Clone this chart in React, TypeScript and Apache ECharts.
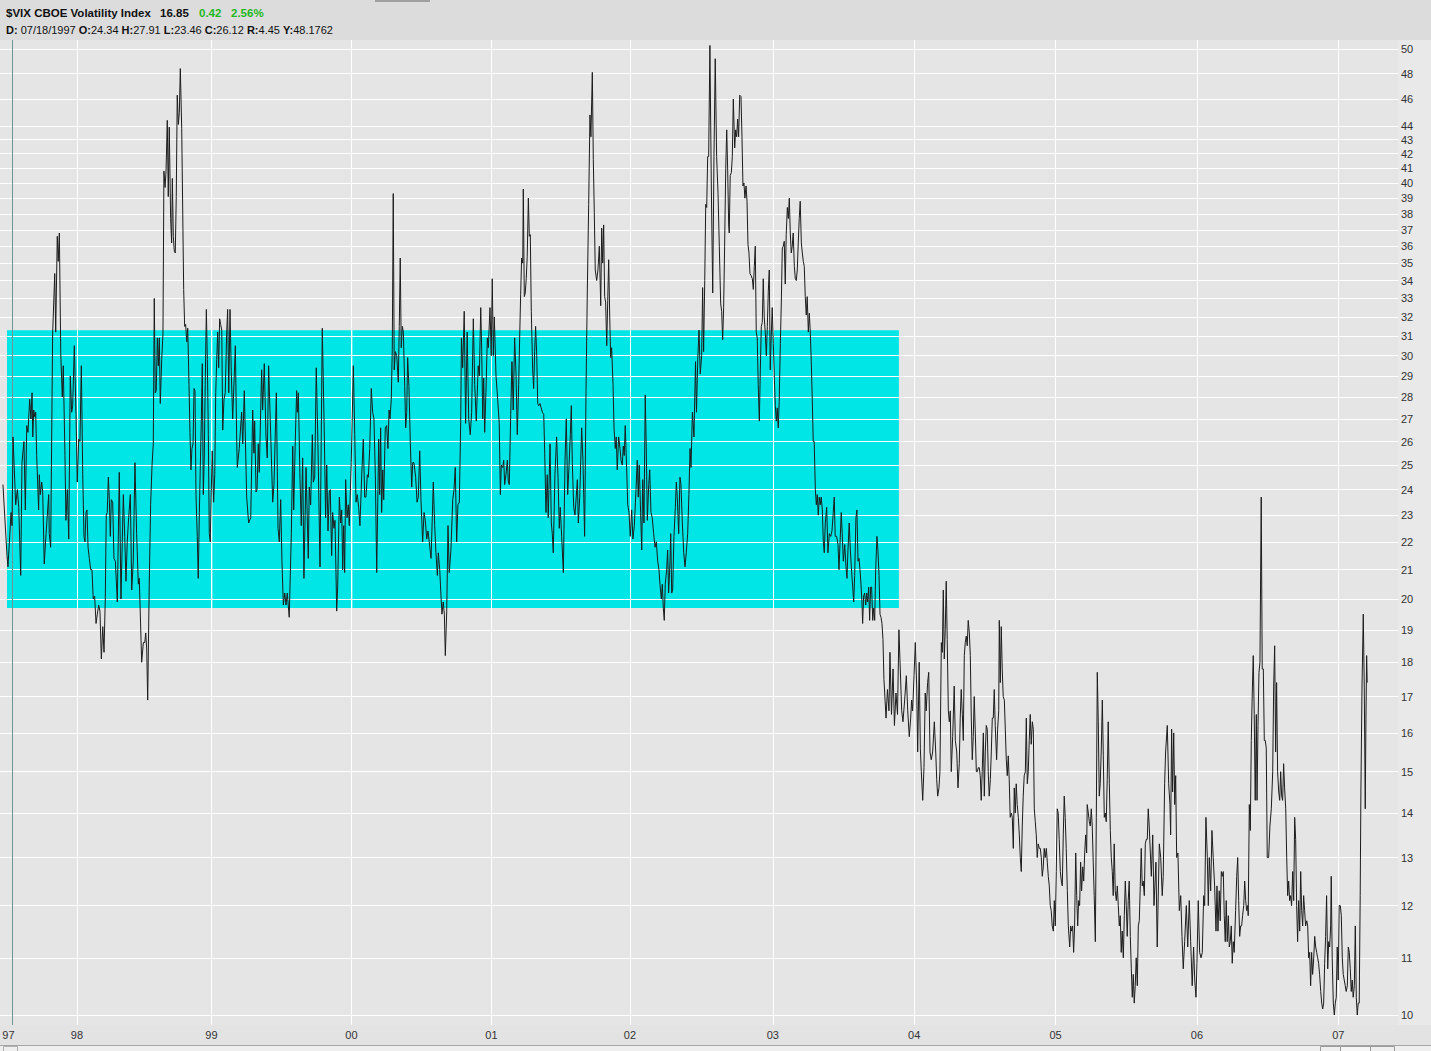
import React, { useEffect, useRef } from 'react';
import * as echarts from 'echarts';

// Trading-time positions (years) and closing values of $VIX
const s1997: [number, number][] = [[1997.471,24.2],[1997.500,21.5],[1997.507,21.1],[1997.529,23.1],[1997.536,22.6],[1997.543,26.2],[1997.562,23.4],[1997.574,24.0],[1997.584,23.3],[1997.598,20.8],[1997.607,25.1],[1997.621,26.0],[1997.631,23.2],[1997.641,26.7],[1997.650,26.4],[1997.662,27.9],[1997.671,27.0],[1997.679,28.2],[1997.684,26.2],[1997.691,27.4],[1997.698,27.1],[1997.705,27.3],[1997.712,25.4],[1997.726,23.2],[1997.731,24.6],[1997.738,23.8],[1997.748,24.3],[1997.755,23.9],[1997.766,21.2],[1997.779,22.3],[1997.798,23.8],[1997.802,22.3],[1997.812,21.8],[1997.826,31.1],[1997.841,34.4],[1997.848,31.2],[1997.859,36.6],[1997.866,35.1],[1997.874,36.8],[1997.884,30.1],[1997.895,28.0],[1997.902,29.5],[1997.914,25.4],[1997.921,22.8],[1997.931,24.0],[1997.941,22.1],[1997.952,29.0],[1997.962,27.3],[1997.969,27.6],[1997.981,30.5],[1997.993,27.2]];

const s1998: [number, number][] = [[1998.002,24.3],[1998.012,26.1],[1998.021,26.0],[1998.031,29.5],[1998.041,24.6],[1998.050,22.2],[1998.057,22.0],[1998.064,23.1],[1998.071,23.2],[1998.079,21.8],[1998.088,21.4],[1998.098,21.0],[1998.107,21.0],[1998.116,20.0],[1998.126,20.1],[1998.136,19.2],[1998.145,19.5],[1998.155,19.8],[1998.164,19.6],[1998.174,18.1],[1998.184,19.1],[1998.193,18.3],[1998.202,20.0],[1998.209,23.0],[1998.216,23.1],[1998.224,24.5],[1998.231,23.6],[1998.238,22.2],[1998.245,23.6],[1998.255,23.5],[1998.264,21.4],[1998.274,21.3],[1998.288,19.9],[1998.302,24.7],[1998.314,20.0],[1998.331,23.8],[1998.341,22.2],[1998.350,20.6],[1998.359,22.0],[1998.369,22.9],[1998.381,23.8],[1998.391,20.3],[1998.402,21.3],[1998.414,25.1],[1998.426,22.3],[1998.438,20.5],[1998.445,20.7],[1998.462,18.0],[1998.474,18.6],[1998.484,18.6],[1998.491,18.9],[1998.498,18.4],[1998.505,16.9],[1998.516,20.5],[1998.526,23.4],[1998.536,25.0],[1998.545,25.9],[1998.552,33.0],[1998.559,28.2],[1998.566,28.3],[1998.574,30.9],[1998.581,29.5],[1998.588,30.9],[1998.595,27.7],[1998.605,29.8],[1998.614,31.1],[1998.621,40.8],[1998.629,39.7],[1998.636,40.8],[1998.645,44.4],[1998.652,39.1],[1998.659,43.9],[1998.669,37.7],[1998.676,36.2],[1998.681,40.3],[1998.688,36.6],[1998.695,35.7],[1998.702,35.6],[1998.709,39.1],[1998.716,46.3],[1998.724,44.1],[1998.731,45.0],[1998.738,48.4],[1998.748,43.8],[1998.755,38.3],[1998.762,33.5],[1998.769,31.5],[1998.776,31.6],[1998.784,30.7],[1998.791,31.4],[1998.800,28.6],[1998.807,26.4],[1998.814,24.8],[1998.821,25.7],[1998.829,25.9],[1998.836,28.4],[1998.843,28.3],[1998.850,23.8],[1998.859,22.2],[1998.866,20.7],[1998.874,23.1],[1998.881,25.0],[1998.888,26.9],[1998.895,29.6],[1998.902,23.8],[1998.909,25.3],[1998.916,28.6],[1998.924,32.4],[1998.931,29.8],[1998.938,26.3],[1998.945,22.3],[1998.952,22.0],[1998.959,23.9],[1998.966,25.6],[1998.976,23.5],[1998.984,24.6],[1998.991,28.2],[1998.998,29.8]];

const s1999: [number, number][] = [[1999.005,31.2],[1999.012,29.4],[1999.019,31.9],[1999.026,31.6],[1999.034,31.3],[1999.041,26.5],[1999.050,27.9],[1999.059,28.2],[1999.069,31.1],[1999.076,32.4],[1999.084,28.2],[1999.093,32.4],[1999.102,29.2],[1999.112,27.0],[1999.131,30.5],[1999.141,26.0],[1999.145,24.9],[1999.159,25.7],[1999.176,27.3],[1999.184,25.9],[1999.195,28.3],[1999.212,23.7],[1999.226,22.7],[1999.241,22.9],[1999.255,27.4],[1999.264,25.5],[1999.269,26.9],[1999.279,23.9],[1999.286,24.0],[1999.295,25.9],[1999.302,24.7],[1999.319,29.3],[1999.326,27.4],[1999.338,29.6],[1999.350,26.2],[1999.359,25.3],[1999.369,29.5],[1999.384,26.2],[1999.398,23.5],[1999.407,24.2],[1999.424,28.2],[1999.436,22.5],[1999.445,22.0],[1999.455,23.6],[1999.464,21.3],[1999.474,19.8],[1999.484,20.2],[1999.493,19.8],[1999.502,20.2],[1999.516,19.4],[1999.531,22.3],[1999.541,25.8],[1999.548,23.2],[1999.559,26.0],[1999.569,28.3],[1999.574,27.3],[1999.581,28.2],[1999.593,24.4],[1999.602,22.6],[1999.612,25.3],[1999.621,20.7],[1999.636,24.9],[1999.652,21.4],[1999.659,24.1],[1999.669,23.4],[1999.681,26.3],[1999.688,24.3],[1999.698,24.5],[1999.709,29.4],[1999.721,25.9],[1999.736,21.1],[1999.752,31.4],[1999.766,26.5],[1999.776,22.9],[1999.784,25.0],[1999.793,22.4],[1999.802,23.9],[1999.809,24.0],[1999.819,21.5],[1999.826,23.1],[1999.836,22.5],[1999.843,22.8],[1999.855,19.6],[1999.862,20.4],[1999.874,23.7],[1999.884,22.7],[1999.891,23.2],[1999.898,21.0],[1999.905,22.6],[1999.912,20.9],[1999.919,24.4],[1999.929,22.9],[1999.938,23.4],[1999.945,22.6],[1999.959,25.1],[1999.974,29.5],[1999.984,26.3],[1999.993,23.5]];

const s2000: [number, number][] = [[2000.002,23.8],[2000.012,23.3],[2000.021,22.6],[2000.034,24.6],[2000.045,26.1],[2000.055,23.7],[2000.064,23.7],[2000.074,24.6],[2000.081,24.5],[2000.091,25.7],[2000.102,28.4],[2000.112,27.3],[2000.121,27.0],[2000.131,24.6],[2000.141,20.9],[2000.155,26.1],[2000.162,23.8],[2000.169,26.6],[2000.176,23.1],[2000.184,24.8],[2000.191,23.6],[2000.202,26.6],[2000.212,26.7],[2000.221,25.7],[2000.229,27.4],[2000.236,27.0],[2000.245,27.9],[2000.252,30.3],[2000.259,39.3],[2000.266,29.3],[2000.274,30.2],[2000.284,30.0],[2000.295,28.7],[2000.302,31.5],[2000.309,35.3],[2000.316,30.4],[2000.324,31.5],[2000.331,31.2],[2000.341,28.5],[2000.348,26.6],[2000.355,27.3],[2000.362,29.9],[2000.371,28.5],[2000.381,25.9],[2000.391,24.1],[2000.398,25.1],[2000.407,25.1],[2000.419,24.5],[2000.429,23.5],[2000.438,23.7],[2000.448,25.6],[2000.457,23.6],[2000.469,22.0],[2000.479,23.1],[2000.488,22.8],[2000.498,22.1],[2000.507,22.4],[2000.516,22.0],[2000.529,21.4],[2000.538,22.9],[2000.545,24.3],[2000.555,22.6],[2000.564,21.6],[2000.574,20.8],[2000.581,21.6],[2000.591,21.0],[2000.598,20.3],[2000.607,19.5],[2000.616,19.9],[2000.624,19.5],[2000.631,18.2],[2000.641,19.6],[2000.650,22.6],[2000.659,20.9],[2000.671,21.7],[2000.684,23.6],[2000.693,24.0],[2000.702,24.9],[2000.712,22.0],[2000.721,23.4],[2000.731,23.5],[2000.741,26.9],[2000.746,30.9],[2000.755,29.4],[2000.766,32.3],[2000.776,26.8],[2000.787,31.2],[2000.798,27.0],[2000.809,26.3],[2000.819,27.3],[2000.831,31.9],[2000.841,28.6],[2000.852,26.9],[2000.866,29.5],[2000.874,29.0],[2000.884,32.5],[2000.891,30.2],[2000.898,27.0],[2000.905,28.9],[2000.912,26.4],[2000.921,28.2],[2000.931,30.9],[2000.938,30.4],[2000.950,32.5],[2000.959,30.0],[2000.966,34.1],[2000.974,30.0],[2000.981,32.0],[2000.993,29.0]];

const s2001: [number, number][] = [[2001.005,27.9],[2001.016,26.8],[2001.024,23.8],[2001.031,25.0],[2001.041,24.9],[2001.048,25.2],[2001.055,24.2],[2001.064,24.6],[2001.074,25.2],[2001.081,24.3],[2001.088,24.2],[2001.098,27.2],[2001.107,29.7],[2001.116,27.4],[2001.126,30.9],[2001.136,29.1],[2001.145,26.3],[2001.155,28.6],[2001.162,30.9],[2001.169,33.2],[2001.176,35.3],[2001.184,35.0],[2001.188,39.6],[2001.195,33.1],[2001.202,33.3],[2001.209,34.1],[2001.216,35.4],[2001.224,39.0],[2001.231,36.6],[2001.238,36.7],[2001.245,32.3],[2001.255,29.3],[2001.262,28.4],[2001.269,30.2],[2001.276,31.5],[2001.284,30.0],[2001.291,27.7],[2001.298,27.6],[2001.307,27.7],[2001.316,27.5],[2001.324,27.3],[2001.334,27.2],[2001.341,25.5],[2001.350,23.1],[2001.359,24.6],[2001.366,22.9],[2001.379,25.9],[2001.388,22.7],[2001.395,22.3],[2001.402,21.6],[2001.414,24.6],[2001.426,26.2],[2001.436,24.5],[2001.445,22.5],[2001.452,23.3],[2001.462,22.2],[2001.474,20.9],[2001.486,25.2],[2001.495,27.0],[2001.505,23.8],[2001.514,24.9],[2001.524,26.3],[2001.531,27.6],[2001.538,25.1],[2001.548,23.3],[2001.557,23.0],[2001.566,23.7],[2001.574,24.4],[2001.581,22.7],[2001.591,23.7],[2001.605,26.6],[2001.614,25.2],[2001.626,22.2],[2001.636,28.3],[2001.645,33.3],[2001.655,38.6],[2001.664,44.8],[2001.671,43.2],[2001.681,48.1],[2001.688,41.6],[2001.695,38.1],[2001.702,34.6],[2001.712,34.0],[2001.721,34.6],[2001.731,36.0],[2001.741,32.6],[2001.748,37.1],[2001.755,35.0],[2001.762,37.3],[2001.769,33.1],[2001.776,32.8],[2001.784,30.5],[2001.791,32.9],[2001.798,35.2],[2001.805,32.1],[2001.812,29.9],[2001.819,30.4],[2001.829,28.6],[2001.836,26.6],[2001.845,25.7],[2001.852,26.2],[2001.859,24.8],[2001.869,26.2],[2001.879,25.7],[2001.886,25.2],[2001.895,25.0],[2001.902,25.8],[2001.909,25.4],[2001.916,26.7],[2001.926,24.9],[2001.934,23.4],[2001.943,23.1],[2001.952,22.2],[2001.962,23.2],[2001.971,22.1],[2001.981,22.6],[2001.993,24.0]];

const s2002: [number, number][] = [[2002.002,25.2],[2002.009,23.7],[2002.016,25.0],[2002.026,23.1],[2002.034,21.7],[2002.041,24.4],[2002.050,22.7],[2002.059,28.1],[2002.066,25.8],[2002.074,22.8],[2002.084,24.2],[2002.091,24.8],[2002.100,23.1],[2002.109,22.9],[2002.119,22.3],[2002.129,21.8],[2002.138,22.0],[2002.148,21.3],[2002.157,21.0],[2002.164,20.5],[2002.174,20.0],[2002.181,20.5],[2002.188,19.7],[2002.195,19.3],[2002.202,20.5],[2002.212,21.0],[2002.219,21.7],[2002.226,20.2],[2002.236,21.3],[2002.241,22.3],[2002.248,20.2],[2002.255,20.3],[2002.264,22.2],[2002.274,23.3],[2002.281,24.3],[2002.288,23.7],[2002.298,22.3],[2002.307,24.5],[2002.314,24.2],[2002.324,22.7],[2002.334,21.6],[2002.343,21.1],[2002.352,21.6],[2002.362,22.3],[2002.371,23.8],[2002.379,25.7],[2002.386,24.9],[2002.396,27.3],[2002.407,26.2],[2002.418,29.7],[2002.425,27.3],[2002.434,29.8],[2002.443,31.3],[2002.452,29.1],[2002.462,30.0],[2002.469,33.6],[2002.476,30.2],[2002.484,34.0],[2002.491,38.6],[2002.498,38.4],[2002.505,41.8],[2002.512,41.8],[2002.521,50.3],[2002.531,39.8],[2002.541,33.3],[2002.550,41.8],[2002.559,49.2],[2002.569,41.8],[2002.579,39.3],[2002.588,36.0],[2002.598,32.7],[2002.605,32.3],[2002.612,30.8],[2002.619,32.5],[2002.626,36.0],[2002.634,41.0],[2002.641,43.7],[2002.648,40.8],[2002.655,37.3],[2002.659,36.8],[2002.666,40.5],[2002.674,40.7],[2002.681,41.8],[2002.688,46.0],[2002.698,42.4],[2002.705,43.7],[2002.712,43.2],[2002.719,44.5],[2002.726,43.2],[2002.734,46.3],[2002.743,46.2],[2002.750,43.2],[2002.757,39.8],[2002.764,40.0],[2002.771,39.0],[2002.779,39.8],[2002.786,38.8],[2002.793,36.1],[2002.800,35.6],[2002.807,34.4],[2002.814,34.3],[2002.824,34.1],[2002.831,33.5],[2002.838,34.8],[2002.845,36.0],[2002.852,31.2],[2002.859,30.9],[2002.866,28.6],[2002.874,26.9],[2002.881,29.3],[2002.888,31.5],[2002.895,31.7],[2002.902,34.1],[2002.909,32.0],[2002.916,31.2],[2002.924,30.0],[2002.931,31.5],[2002.938,33.4],[2002.945,34.6],[2002.952,29.3],[2002.959,31.0],[2002.966,32.5],[2002.974,30.6],[2002.981,28.9],[2002.988,27.6],[2002.995,26.9]];

const s2003: [number, number][] = [[2003.002,27.5],[2003.009,26.6],[2003.016,27.8],[2003.024,30.6],[2003.031,32.8],[2003.038,35.9],[2003.045,36.0],[2003.052,36.3],[2003.059,33.8],[2003.066,36.7],[2003.074,38.4],[2003.081,37.7],[2003.088,39.0],[2003.095,36.8],[2003.102,35.6],[2003.109,36.0],[2003.116,36.8],[2003.124,34.8],[2003.131,34.1],[2003.138,34.0],[2003.145,34.6],[2003.152,36.2],[2003.159,37.7],[2003.166,38.8],[2003.174,36.2],[2003.181,35.6],[2003.188,35.1],[2003.195,34.8],[2003.202,33.1],[2003.209,32.1],[2003.216,33.1],[2003.224,31.2],[2003.231,32.2],[2003.238,31.2],[2003.245,29.7],[2003.252,27.9],[2003.259,26.0],[2003.266,26.0],[2003.274,24.0],[2003.281,23.4],[2003.288,23.8],[2003.295,23.0],[2003.302,23.7],[2003.309,23.4],[2003.316,23.7],[2003.324,23.2],[2003.331,22.0],[2003.338,21.6],[2003.345,22.7],[2003.355,23.3],[2003.364,21.6],[2003.374,22.3],[2003.384,22.2],[2003.393,22.4],[2003.402,23.1],[2003.409,23.7],[2003.416,22.2],[2003.426,22.2],[2003.436,21.9],[2003.443,21.0],[2003.450,21.9],[2003.459,23.1],[2003.466,22.3],[2003.474,21.3],[2003.484,21.9],[2003.493,21.1],[2003.500,20.7],[2003.507,21.7],[2003.516,22.7],[2003.524,21.7],[2003.531,21.1],[2003.541,20.4],[2003.548,19.9],[2003.555,20.8],[2003.564,22.9],[2003.571,23.2],[2003.579,21.3],[2003.586,21.4],[2003.593,21.0],[2003.600,20.5],[2003.607,19.9],[2003.612,19.2],[2003.619,20.1],[2003.626,20.2],[2003.634,19.8],[2003.641,20.2],[2003.648,19.9],[2003.655,20.4],[2003.662,19.3],[2003.669,20.4],[2003.676,20.4],[2003.684,19.3],[2003.691,19.7],[2003.698,19.3],[2003.705,21.0],[2003.714,22.2],[2003.721,21.7],[2003.729,20.8],[2003.736,19.5],[2003.743,19.4],[2003.750,19.2],[2003.757,18.7],[2003.764,17.5],[2003.779,16.4],[2003.789,17.2],[2003.800,16.6],[2003.807,18.3],[2003.818,16.5],[2003.829,17.8],[2003.839,16.2],[2003.850,17.1],[2003.861,16.5],[2003.871,19.0],[2003.891,16.6],[2003.900,16.3],[2003.912,16.9],[2003.924,17.6],[2003.934,16.6],[2003.945,15.9],[2003.955,16.4],[2003.962,16.9],[2003.969,16.6],[2003.979,17.6],[2003.988,18.6],[2003.998,17.3]];

const s2004: [number, number][] = [[2004.005,15.5],[2004.016,18.0],[2004.024,15.6],[2004.031,15.0],[2004.041,14.3],[2004.050,15.1],[2004.059,17.1],[2004.066,16.6],[2004.076,17.4],[2004.084,17.7],[2004.093,15.5],[2004.102,15.3],[2004.112,15.5],[2004.124,16.3],[2004.134,15.5],[2004.141,14.8],[2004.148,14.4],[2004.157,14.6],[2004.164,15.0],[2004.174,18.6],[2004.181,18.3],[2004.188,20.3],[2004.195,18.1],[2004.202,19.0],[2004.209,20.6],[2004.216,18.7],[2004.224,16.6],[2004.231,16.3],[2004.238,16.6],[2004.245,15.0],[2004.255,15.9],[2004.266,17.3],[2004.274,15.8],[2004.284,15.5],[2004.293,14.6],[2004.302,15.2],[2004.309,16.4],[2004.316,17.2],[2004.324,16.5],[2004.331,15.8],[2004.338,18.2],[2004.345,18.6],[2004.352,18.8],[2004.359,18.5],[2004.366,19.3],[2004.374,18.9],[2004.381,18.2],[2004.388,16.4],[2004.395,15.3],[2004.402,15.9],[2004.409,17.0],[2004.416,16.1],[2004.424,15.0],[2004.431,15.0],[2004.438,15.1],[2004.445,15.1],[2004.452,14.9],[2004.459,14.3],[2004.466,15.0],[2004.474,16.0],[2004.481,14.4],[2004.488,15.5],[2004.495,16.2],[2004.502,16.1],[2004.509,15.0],[2004.516,14.4],[2004.524,14.8],[2004.531,15.5],[2004.538,16.4],[2004.545,16.4],[2004.552,17.2],[2004.559,16.2],[2004.569,15.3],[2004.576,16.1],[2004.584,16.6],[2004.588,19.3],[2004.595,17.4],[2004.602,19.1],[2004.609,17.8],[2004.616,17.0],[2004.624,16.9],[2004.631,16.1],[2004.638,15.3],[2004.645,14.9],[2004.652,15.4],[2004.659,14.8],[2004.666,13.9],[2004.674,14.0],[2004.681,13.9],[2004.688,13.2],[2004.695,14.6],[2004.702,14.0],[2004.709,14.7],[2004.716,14.2],[2004.724,13.9],[2004.731,13.5],[2004.738,13.0],[2004.745,12.7],[2004.752,13.7],[2004.759,14.4],[2004.766,14.9],[2004.774,15.0],[2004.781,16.4],[2004.788,14.7],[2004.795,15.0],[2004.802,15.8],[2004.809,16.5],[2004.816,15.7],[2004.824,16.3],[2004.831,16.1],[2004.838,14.1],[2004.845,13.8],[2004.852,13.5],[2004.859,13.0],[2004.866,13.3],[2004.874,13.2],[2004.881,13.2],[2004.888,13.0],[2004.895,12.6],[2004.902,12.8],[2004.909,13.2],[2004.916,13.0],[2004.924,13.2],[2004.931,12.9],[2004.938,12.6],[2004.945,12.4],[2004.952,12.0],[2004.959,11.9],[2004.966,11.6],[2004.974,11.5],[2004.981,12.1],[2004.988,11.6],[2004.995,12.7]];

const s2005: [number, number][] = [[2005.002,14.1],[2005.009,14.0],[2005.016,13.4],[2005.024,12.7],[2005.031,12.5],[2005.038,12.4],[2005.045,13.5],[2005.052,14.4],[2005.059,13.9],[2005.066,13.2],[2005.074,12.3],[2005.081,11.6],[2005.091,11.2],[2005.098,11.6],[2005.105,11.5],[2005.112,11.6],[2005.119,11.1],[2005.126,11.6],[2005.134,13.1],[2005.141,12.2],[2005.148,11.6],[2005.155,12.1],[2005.162,12.0],[2005.169,12.9],[2005.176,12.3],[2005.184,12.8],[2005.191,12.5],[2005.198,13.1],[2005.205,13.5],[2005.212,13.1],[2005.216,14.2],[2005.224,14.0],[2005.231,13.8],[2005.238,13.7],[2005.245,14.1],[2005.252,13.7],[2005.259,12.9],[2005.266,12.2],[2005.274,11.3],[2005.281,13.9],[2005.288,17.7],[2005.295,16.3],[2005.302,14.4],[2005.309,14.7],[2005.316,15.5],[2005.324,16.9],[2005.331,15.4],[2005.338,13.9],[2005.345,14.0],[2005.352,13.8],[2005.359,14.8],[2005.366,16.3],[2005.374,14.7],[2005.381,13.6],[2005.388,13.0],[2005.395,12.7],[2005.402,12.2],[2005.409,13.3],[2005.416,12.3],[2005.424,12.1],[2005.431,12.4],[2005.438,12.0],[2005.445,11.6],[2005.452,11.8],[2005.459,11.1],[2005.466,11.5],[2005.474,11.0],[2005.481,11.8],[2005.488,12.5],[2005.495,12.0],[2005.502,11.4],[2005.509,12.1],[2005.516,12.5],[2005.524,11.4],[2005.531,10.8],[2005.538,10.3],[2005.545,10.7],[2005.552,10.2],[2005.559,10.5],[2005.566,11.0],[2005.574,10.5],[2005.581,11.6],[2005.588,11.7],[2005.595,12.4],[2005.602,13.2],[2005.609,12.4],[2005.616,12.5],[2005.624,12.2],[2005.631,13.3],[2005.638,13.4],[2005.645,13.4],[2005.652,14.1],[2005.659,13.7],[2005.674,12.6],[2005.684,13.5],[2005.693,12.0],[2005.707,12.9],[2005.716,11.2],[2005.731,13.3],[2005.741,13.0],[2005.752,12.2],[2005.759,12.6],[2005.769,14.7],[2005.776,15.5],[2005.788,16.2],[2005.798,14.7],[2005.807,14.2],[2005.812,13.5],[2005.819,16.1],[2005.826,14.5],[2005.834,16.0],[2005.841,14.2],[2005.848,14.9],[2005.855,13.0],[2005.864,13.1],[2005.874,11.9],[2005.884,12.2],[2005.893,11.4],[2005.902,10.8],[2005.912,11.3],[2005.924,12.0],[2005.934,11.2],[2005.945,12.1],[2005.955,11.3],[2005.966,10.5],[2005.976,11.2],[2005.984,10.6],[2005.993,10.3]];

const s2006: [number, number][] = [[2006.000,10.9],[2006.009,12.1],[2006.019,11.1],[2006.029,11.0],[2006.038,11.1],[2006.048,12.2],[2006.055,12.0],[2006.064,13.9],[2006.074,13.0],[2006.081,12.0],[2006.088,13.0],[2006.098,12.3],[2006.107,13.6],[2006.116,13.0],[2006.126,12.4],[2006.136,11.5],[2006.143,12.4],[2006.150,11.5],[2006.159,12.3],[2006.166,11.7],[2006.174,12.7],[2006.181,12.6],[2006.188,12.7],[2006.195,11.8],[2006.202,11.3],[2006.209,12.1],[2006.216,11.3],[2006.224,11.8],[2006.231,11.2],[2006.238,11.3],[2006.245,11.6],[2006.252,10.9],[2006.259,11.3],[2006.266,11.1],[2006.276,11.9],[2006.284,12.6],[2006.291,13.0],[2006.298,12.1],[2006.305,11.4],[2006.312,11.6],[2006.319,11.6],[2006.326,11.8],[2006.334,12.0],[2006.341,12.5],[2006.348,12.1],[2006.355,11.9],[2006.362,12.0],[2006.366,11.8],[2006.374,14.2],[2006.381,13.6],[2006.388,15.8],[2006.395,17.1],[2006.402,18.2],[2006.409,16.5],[2006.416,14.3],[2006.424,16.5],[2006.429,14.3],[2006.436,16.2],[2006.443,17.7],[2006.450,18.0],[2006.459,23.7],[2006.466,17.8],[2006.474,17.8],[2006.481,15.8],[2006.488,15.8],[2006.495,15.6],[2006.502,13.0],[2006.512,13.0],[2006.521,13.7],[2006.531,14.1],[2006.541,15.0],[2006.548,17.3],[2006.555,18.5],[2006.562,15.5],[2006.569,17.4],[2006.576,15.0],[2006.584,14.5],[2006.591,14.3],[2006.598,15.0],[2006.605,14.4],[2006.612,14.3],[2006.619,15.2],[2006.626,14.6],[2006.634,14.1],[2006.641,13.0],[2006.648,12.2],[2006.655,12.5],[2006.662,12.1],[2006.669,12.2],[2006.676,12.0],[2006.684,12.7],[2006.691,12.1],[2006.698,13.9],[2006.705,13.4],[2006.712,12.0],[2006.719,11.3],[2006.726,12.1],[2006.734,11.5],[2006.741,12.7],[2006.748,11.9],[2006.755,11.6],[2006.762,12.2],[2006.769,11.9],[2006.776,11.6],[2006.784,11.7],[2006.791,11.6],[2006.798,11.0],[2006.805,11.1],[2006.812,10.5],[2006.819,11.1],[2006.826,10.7],[2006.834,11.0],[2006.841,11.4],[2006.848,11.2],[2006.855,11.1],[2006.862,11.0],[2006.869,10.9],[2006.876,10.7],[2006.884,10.4],[2006.891,10.2],[2006.898,10.1],[2006.905,10.2],[2006.912,10.9],[2006.919,11.4],[2006.926,12.2],[2006.934,10.8],[2006.941,11.3],[2006.948,11.2],[2006.955,11.6],[2006.959,12.6],[2006.966,11.0],[2006.974,10.2],[2006.981,10.0],[2006.988,10.2],[2006.995,10.3]];

const s2007: [number, number][] = [[2007.002,11.2],[2007.009,10.6],[2007.016,12.0],[2007.024,12.0],[2007.031,11.8],[2007.038,11.0],[2007.045,10.7],[2007.052,10.6],[2007.059,10.5],[2007.066,10.4],[2007.074,10.5],[2007.081,11.2],[2007.088,11.1],[2007.095,10.8],[2007.102,10.4],[2007.109,10.6],[2007.116,10.3],[2007.124,10.5],[2007.131,11.6],[2007.138,10.3],[2007.145,10.0],[2007.152,10.2],[2007.159,10.2],[2007.166,12.2],[2007.171,14.5],[2007.179,17.3],[2007.188,19.5],[2007.195,17.3],[2007.202,14.1],[2007.207,16.4],[2007.212,18.2],[2007.216,17.4]];

// Axis ticks
const yTicks = [10, 11, 12, 13, 14, 15, 16, 17, 18, 19, 20, 21, 22, 23, 24, 25, 26, 27, 28, 29, 30, 31, 32, 33, 34, 35, 36, 37, 38, 39, 40, 41, 42, 43, 44, 46, 48, 50];
const yearTicks = [1997.514, 1998.0, 1998.964, 1999.964, 2000.957, 2001.95, 2002.971, 2003.979, 2004.993, 2006.0, 2007.014];
const yearLabels = ['97', '98', '99', '00', '01', '02', '03', '04', '05', '06', '07'];

// Highlighted band (time range and value range)
const bandFrom = 1997.5;
const bandTo = 2003.871;
const bandLow = 19.7;
const bandHigh = 31.3;
const cursorTime = 1997.538;

const axisMin = 1997.45;
const axisMax = 2007.436;
const valueMin = 9.835;
const valueMax = 50.76;

// Header texts
const titleText = '$VIX CBOE Volatility Index';
const lastText = '16.85';
const changeText = '0.42';
const pctText = '2.56%';
const detailLabels = ['D:', 'O:', 'H:', 'L:', 'C:', 'R:', 'Y:'];
const detailValues = [' 07/18/1997', '24.34', '27.91', '23.46', '26.12', '4.45', '48.1762'];

const FONT = '"Liberation Sans", Arial, sans-serif';

export default function App() {
  const ref = useRef<HTMLDivElement>(null);

  useEffect(() => {
    if (!ref.current) return;
    const chart = echarts.init(ref.current, undefined, { renderer: 'svg' });

    const vix = [...s1997, ...s1998, ...s1999, ...s2000, ...s2001, ...s2002, ...s2003, ...s2004, ...s2005, ...s2006, ...s2007];

    const detailRich = detailLabels.map((l, i) => `{b|${l}}${detailValues[i]}`).join(' ');

    const gridLineData: any[] = [
      ...yTicks.map((v) => ({ name: String(v), yAxis: v })),
      ...yearTicks.map((t, i) => {
        const item: any = {
          name: yearLabels[i],
          xAxis: t,
          label: { position: 'start', distance: 4 },
        };
        if (i === 0) item.lineStyle = { color: 'rgba(255,255,255,0)' };
        return item;
      }),
    ];

    const overlayData: any[] = [
      ...yTicks
        .filter((v) => v > bandLow && v < bandHigh)
        .map((v) => [{ coord: [bandFrom, v] }, { coord: [bandTo, v] }]),
      ...yearTicks
        .slice(1)
        .filter((t) => t > bandFrom && t < bandTo)
        .map((t) => [{ coord: [t, bandLow] }, { coord: [t, bandHigh] }]),
      { xAxis: cursorTime, lineStyle: { color: '#6f9696', opacity: 1, width: 1 } },
    ];

    const option: any = {
      animation: false,
      backgroundColor: '#e2e2e2',
      grid: {
        left: 0,
        right: 33,
        top: 40,
        bottom: 26,
        show: true,
        backgroundColor: '#e5e5e5',
        borderWidth: 0,
      },
      xAxis: {
        type: 'value',
        min: axisMin,
        max: axisMax,
        axisLine: { show: false },
        axisTick: { show: false },
        axisLabel: { show: false },
        splitLine: { show: false },
      },
      yAxis: {
        type: 'log',
        logBase: 10,
        min: valueMin,
        max: valueMax,
        position: 'right',
        axisLine: { show: false },
        axisTick: { show: false },
        axisLabel: { show: false },
        splitLine: { show: false },
      },
      graphic: [
        { type: 'rect', z: -10, silent: true, shape: { x: 0, y: 0, width: 1431, height: 40 }, style: { fill: '#dcdcdc' } },
        { type: 'rect', z: -9, silent: true, shape: { x: 375, y: 0, width: 55, height: 2 }, style: { fill: '#a0a0a0' } },
        { type: 'rect', z: -10, silent: true, shape: { x: 1398, y: 40, width: 33, height: 985 }, style: { fill: '#e9e9e9' } },
        { type: 'rect', z: -10, silent: true, shape: { x: 0, y: 1025, width: 1431, height: 21 }, style: { fill: '#e3e3e3' } },
        { type: 'rect', z: -10, silent: true, shape: { x: 0, y: 1046, width: 1431, height: 5 }, style: { fill: '#efefef' } },
        { type: 'line', z: -9, silent: true, shape: { x1: 0, y1: 1045.5, x2: 1431, y2: 1045.5 }, style: { stroke: '#a6a6a6', lineWidth: 1 } },
        { type: 'rect', z: -9, silent: true, shape: { x: 3.5, y: 1046.5, width: 14, height: 8 }, style: { fill: 'none', stroke: '#b0b0b0', lineWidth: 1 } },
        { type: 'rect', z: -9, silent: true, shape: { x: 1320.5, y: 1046.5, width: 20, height: 8 }, style: { fill: 'none', stroke: '#9a9a9a', lineWidth: 1 } },
        { type: 'rect', z: -9, silent: true, shape: { x: 1340.5, y: 1046.5, width: 30, height: 8 }, style: { fill: '#f6f6f6', stroke: '#9a9a9a', lineWidth: 1 } },
        { type: 'rect', z: -9, silent: true, shape: { x: 1370.5, y: 1046.5, width: 24, height: 8 }, style: { fill: 'none', stroke: '#9a9a9a', lineWidth: 1 } },
        {
          type: 'text', x: 6, y: 13, silent: true,
          style: { text: titleText, font: `bold 11.5px ${FONT}`, fill: '#111111', verticalAlign: 'middle' },
        },
        {
          type: 'text', x: 160, y: 13, silent: true,
          style: { text: lastText, font: `bold 11.5px ${FONT}`, fill: '#111111', verticalAlign: 'middle' },
        },
        {
          type: 'text', x: 199, y: 13, silent: true,
          style: { text: changeText, font: `bold 11.5px ${FONT}`, fill: '#1cb81c', verticalAlign: 'middle' },
        },
        {
          type: 'text', x: 231, y: 13, silent: true,
          style: { text: pctText, font: `bold 11.5px ${FONT}`, fill: '#1cb81c', verticalAlign: 'middle' },
        },
        {
          type: 'text', x: 6, y: 30, silent: true,
          style: {
            text: detailRich,
            font: `11px ${FONT}`,
            fill: '#111111',
            verticalAlign: 'middle',
            rich: { b: { fontWeight: 'bold', fontSize: 11, fontFamily: FONT, fill: '#111111' } },
          },
        },
      ],
      series: [
        {
          type: 'line',
          z: 1,
          silent: true,
          data: [],
          markLine: {
            silent: true,
            animation: false,
            symbol: ['none', 'none'],
            lineStyle: { color: '#ffffff', width: 1, type: 'solid', opacity: 1 },
            emphasis: { disabled: true },
            label: {
              show: true,
              position: 'end',
              formatter: '{b}',
              color: '#333333',
              fontSize: 11,
              fontFamily: FONT,
              distance: 3,
            },
            data: gridLineData,
          },
        },
        {
          type: 'line',
          z: 2,
          silent: true,
          data: [],
          markArea: {
            silent: true,
            animation: false,
            itemStyle: { color: '#00e5e5', opacity: 1, borderWidth: 0 },
            emphasis: { disabled: true },
            data: [[{ coord: [bandFrom, bandHigh] }, { coord: [bandTo, bandLow] }]],
          },
        },
        {
          type: 'line',
          z: 3,
          silent: true,
          data: [],
          markLine: {
            silent: true,
            animation: false,
            symbol: ['none', 'none'],
            label: { show: false },
            emphasis: { disabled: true },
            lineStyle: { color: 'rgba(255,255,255,0.35)', width: 1, type: 'solid' },
            data: overlayData,
          },
        },
        {
          type: 'line',
          z: 5,
          name: '$VIX',
          data: vix,
          showSymbol: false,
          symbol: 'none',
          silent: true,
          lineStyle: { color: '#1c1c1c', width: 1 },
        },
      ],
    };

    chart.setOption(option);
    return () => chart.dispose();
  }, []);

  return (
    <div
      ref={ref}
      style={{ position: 'fixed', left: 0, top: 0, width: 1431, height: 1051 }}
    />
  );
}
